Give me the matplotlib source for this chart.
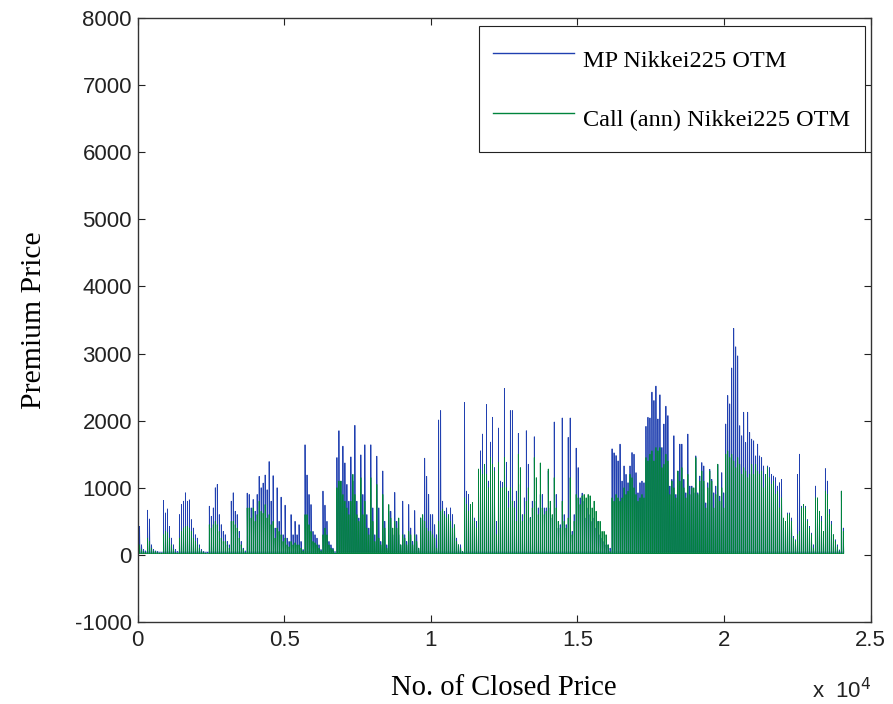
import numpy as np
import matplotlib
matplotlib.use('Agg')
import matplotlib.pyplot as plt

# peak premium of each contract, in closing-price order (one entry per contract)
mp_peak = [
    475, 425, 150, 80, 60, 665, 535, 150, 80, 60,
    50, 40, 40, 810, 625, 685, 425, 250, 150, 80,
    50, 600, 750, 800, 925, 800, 820, 525, 400, 300,
    250, 150, 80, 50, 40, 30, 725, 575, 700, 1000,
    1050, 600, 450, 350, 300, 200, 150, 800, 925, 650,
    600, 350, 200, 100, 60, 920, 900, 700, 825, 650,
    900, 1170, 1000, 1070, 1190, 970, 1390, 800, 1180, 400,
    1000, 500, 860, 300, 740, 250, 200, 600, 300, 500,
    300, 450, 200, 80, 1640, 1190, 900, 750, 350, 300,
    250, 150, 80, 950, 740, 500, 200, 150, 100, 50,
    1450, 1850, 1100, 1620, 1370, 1050, 800, 1460, 1100, 1930,
    800, 550, 1490, 900, 1640, 600, 400, 1640, 700, 300,
    1470, 700, 200, 1250, 500, 150, 650, 650, 300, 930,
    500, 300, 150, 800, 300, 200, 750, 400, 200, 660,
    300, 100, 550, 520, 1440, 1170, 900, 600, 600, 450,
    300, 2010, 2150, 800, 650, 700, 500, 700, 600, 350,
    250, 150, 150, 50, 2270, 950, 900, 700, 750, 550,
    500, 1260, 1550, 1800, 1250, 2240, 1100, 1680, 2050, 1300,
    500, 1890, 1100, 1080, 2480, 1380, 950, 2150, 2150, 800,
    950, 1810, 1050, 600, 850, 1850, 1350, 560, 800, 1760,
    800, 700, 900, 900, 700, 700, 1250, 700, 550, 1980,
    900, 400, 450, 2040, 600, 450, 1750, 2040, 350, 600,
    1590, 1300, 850, 920, 800, 550, 700, 600, 500, 550,
    400, 500, 300, 250, 200, 150, 150, 100, 1580, 1520,
    1480, 1400, 1650, 1100, 1325, 1200, 1075, 1325, 1525, 1500,
    1225, 925, 1075, 1100, 1075, 1915, 2050, 2040, 2425, 2300,
    2515, 2025, 2385, 1600, 1950, 2215, 2075, 1025, 1125, 1775,
    900, 1250, 1650, 1650, 1125, 925, 1800, 1025, 1025, 925,
    1475, 925, 1175, 1375, 1325, 775, 1075, 1275, 1125, 925,
    1025, 1350, 875, 1225, 925, 1950, 2375, 2250, 2785, 3375,
    3100, 2965, 1925, 1775, 2125, 1675, 2125, 1825, 1725, 1700,
    1475, 1650, 1475, 1450, 1325, 1025, 1325, 1300, 1200, 1175,
    1150, 1025, 1075, 1125, 500, 425, 625, 625, 550, 275,
    225, 1200, 1500, 725, 750, 725, 525, 425, 325, 150,
    1025, 825, 650, 575, 325, 1285, 1100, 675, 500, 300,
    225, 150, 75, 950, 400,
]

ann_peak = [
    200, 150, 80, 50, 40, 250, 200, 100, 60, 50,
    40, 30, 30, 300, 350, 330, 250, 150, 80, 40,
    30, 250, 350, 400, 420, 430, 400, 350, 250, 200,
    150, 100, 60, 40, 30, 20, 450, 400, 450, 500,
    450, 350, 250, 200, 200, 150, 100, 500, 500, 450,
    400, 250, 150, 80, 40, 700, 700, 550, 700, 500,
    600, 800, 650, 620, 750, 550, 600, 450, 500, 250,
    400, 350, 300, 200, 250, 150, 120, 200, 150, 180,
    150, 150, 100, 60, 600, 600, 450, 350, 200, 180,
    150, 100, 60, 300, 400, 300, 150, 100, 80, 30,
    1000, 1100, 1100, 900, 800, 700, 600, 800, 1200, 900,
    600, 500, 1150, 600, 800, 400, 300, 1150, 500, 200,
    1050, 250, 150, 900, 400, 100, 750, 550, 400, 500,
    400, 550, 150, 300, 250, 150, 350, 300, 150, 300,
    200, 100, 550, 600, 500, 400, 350, 350, 300, 250,
    100, 500, 650, 680, 600, 550, 600, 500, 400, 450,
    200, 150, 100, 50, 850, 750, 650, 750, 780, 500,
    400, 1280, 1270, 1200, 1350, 1200, 1000, 1450, 1350, 1250,
    300, 1380, 1000, 1000, 1450, 1000, 700, 1000, 800, 700,
    500, 1500, 1300, 500, 600, 800, 1000, 550, 700, 1450,
    1150, 600, 1370, 700, 600, 650, 1280, 800, 600, 1150,
    700, 500, 400, 800, 500, 400, 550, 1150, 300, 500,
    900, 850, 750, 880, 900, 850, 900, 880, 700, 800,
    650, 500, 500, 350, 350, 300, 150, 50, 850, 800,
    900, 850, 800, 850, 1000, 900, 950, 1200, 1150, 1000,
    900, 800, 850, 900, 850, 1450, 1400, 1500, 1550, 1400,
    1600, 1550, 1600, 1300, 1350, 1500, 1400, 900, 1100, 1000,
    850, 1250, 1100, 1300, 1000, 850, 1200, 900, 1000, 1000,
    1450, 900, 1100, 1250, 1100, 700, 1000, 1250, 1100, 700,
    900, 1350, 800, 1000, 700, 1500, 1550, 1450, 1500, 1400,
    1300, 1450, 1350, 1200, 1300, 1250, 1150, 1200, 1350, 1200,
    1350, 1250, 1200, 1250, 1000, 1200, 1300, 1150, 1050, 1100,
    900, 950, 700, 850, 550, 500, 600, 600, 500, 250,
    200, 300, 350, 700, 750, 700, 500, 400, 300, 100,
    850, 850, 650, 500, 350, 950, 900, 600, 450, 300,
    200, 120, 60, 950, 350,
]

contract_len = 68      # closing prices per contract
mp_floor = 40
ann_floor = 20

x_ticks = [0, 5000, 10000, 15000, 20000, 25000]
x_tick_labels = ['0', '0.5', '1', '1.5', '2', '2.5']
y_ticks = [-1000, 0, 1000, 2000, 3000, 4000, 5000, 6000, 7000, 8000]


def spike_trace(peaks, floor):
    """ Jump up to the contract's opening premium, then fall back to the floor """
    xs, ys = [], []
    for i, peak in enumerate(peaks):
        start = i * contract_len
        xs += [start, start + 2, start + 14]
        ys += [floor, peak, floor]
    return xs, ys


serif = ['Liberation Serif', 'DejaVu Serif']
sans = ['Liberation Sans', 'DejaVu Sans']

fig = plt.figure(figsize=(8.93, 7.04), dpi=100)
ax = fig.add_axes([137.5 / 893, 1 - 622 / 704, 733 / 893, 604 / 704])

mp_x, mp_y = spike_trace(mp_peak, mp_floor)
ann_x, ann_y = spike_trace(ann_peak, ann_floor)
ax.plot(mp_x, mp_y, color='#2040b0', lw=0.6, label='MP Nikkei225 OTM')
ax.plot(ann_x, ann_y, color='#00843c', lw=0.6, label='Call (ann) Nikkei225 OTM')

ax.set_xlim(0, 25000)
ax.set_ylim(-1000, 8000)
ax.set_xticks(x_ticks)
ax.set_xticklabels(x_tick_labels, family=sans)
ax.set_yticks(y_ticks)
ax.set_yticklabels([str(v) for v in y_ticks], family=sans)
ax.tick_params(direction='in', length=5, width=0.8, top=True, right=True,
               labelsize=16, colors='#222222')
ax.tick_params(axis='x', pad=6)
ax.tick_params(axis='y', pad=4)
for spine in ax.spines.values():
    spine.set_linewidth(1.0)
    spine.set_color('#333333')

ax.set_xlabel('No. of Closed Price', family=serif, fontsize=20.6, labelpad=17)
ax.set_ylabel('Premium Price', family=serif, fontsize=21.3, labelpad=20)
ax.text(0.920, -0.126, 'x  10$^{4}$', transform=ax.transAxes, family=sans,
        fontsize=16, ha='left', va='baseline', color='#222222')

leg = ax.legend(loc='upper right', bbox_to_anchor=(0.9925, 0.987), borderaxespad=0,
                prop={'family': serif, 'size': 17.5}, fancybox=False, framealpha=1,
                edgecolor='#222222', handlelength=3.3, handletextpad=0.4,
                handleheight=1.95, labelspacing=0.95, borderpad=0.6)
leg.get_frame().set_linewidth(0.8)
for line in leg.get_lines():
    line.set_linewidth(1.0)

fig.savefig('out.png', dpi=100)
